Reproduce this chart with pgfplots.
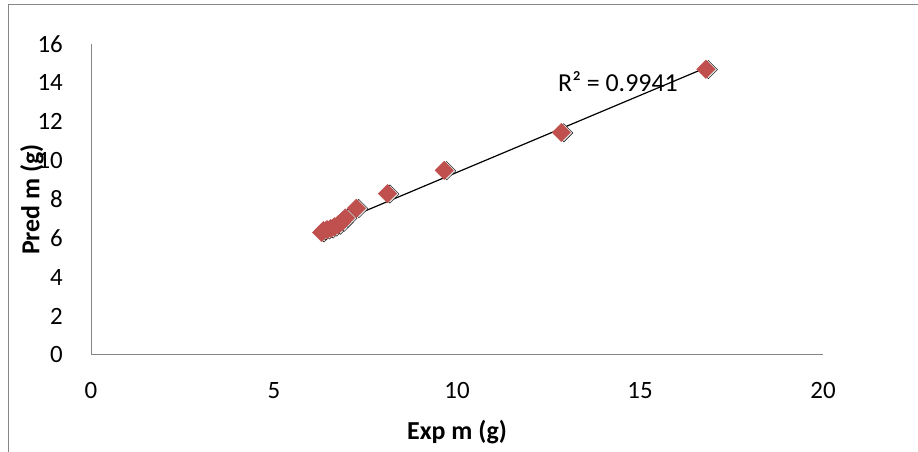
\documentclass[border=0pt]{standalone}
\usepackage{fontspec}
\setmainfont{Carlito}
\usepackage{pgfplots}
\usepackage{pgfplotstable}
\pgfplotsset{compat=1.18}
\definecolor{excelred}{RGB}{192,80,77}
\definecolor{axisgray}{RGB}{134,134,134}

\pgfplotstableread{
x y
6.30 6.30
6.35 6.40
6.45 6.45
6.55 6.50
6.65 6.60
6.75 6.70
6.85 6.85
6.95 7.05
7.25 7.55
8.10 8.30
9.65 9.50
12.85 11.45
16.80 14.70
}\expdata

\begin{document}
\begin{tikzpicture}[x=1bp,y=1bp]
\path[use as bounding box] (0,0) rectangle (918,452);
\draw[axisgray, line width=1bp] (8,0) -- (8,447) -- (918,447);
\begin{axis}[
  at={(91bp,97bp)}, anchor=south west,
  scale only axis, width=732bp, height=311bp,
  xmin=0, xmax=20, ymin=0, ymax=16,
  xtick={0,5,...,20}, ytick={0,2,...,16},
  axis x line*=bottom, axis y line*=left,
  axis line style={-, axisgray, line width=1bp},
  major tick length=0pt,
  /pgf/number format/assume math mode=true,
  tick label style={font=\fontsize{25}{29}\selectfont, inner sep=0pt},
  xticklabel style={anchor=center, yshift=-36bp},
  yticklabel style={anchor=east, xshift=-28bp},
  xlabel={Exp m (g)}, ylabel={Pred m (g)},
  every axis x label/.style={at={(axis description cs:0.5,0)}, anchor=center,
    yshift=-77bp, font=\fontsize{26}{30}\selectfont\bfseries},
  every axis y label/.style={at={(axis description cs:0,0.5)}, anchor=center,
    rotate=90, yshift=59bp, font=\fontsize{26}{30}\selectfont\bfseries},
  clip=false,
]
\addplot[only marks, mark=square*, mark size=6.5bp,
  mark options={rotate=45, fill=black!12, draw=none, xshift=1.5bp, yshift=-2bp}]
  table[x=x, y=y] {\expdata};
\addplot[only marks, mark=square*, mark size=6.5bp,
  mark options={rotate=45, fill=excelred, draw=excelred}]
  table[x=x, y=y] {\expdata};
\addplot[draw=black, line width=1.2bp, no marks]
  table[x=x, y={create col/linear regression={y=y}}] {\expdata};
\node[anchor=west, inner sep=0pt, font=\fontsize{26}{30}\selectfont] at (axis cs:12.76,14.04) {R² = 0.9941};
\end{axis}
\end{tikzpicture}
\end{document}
